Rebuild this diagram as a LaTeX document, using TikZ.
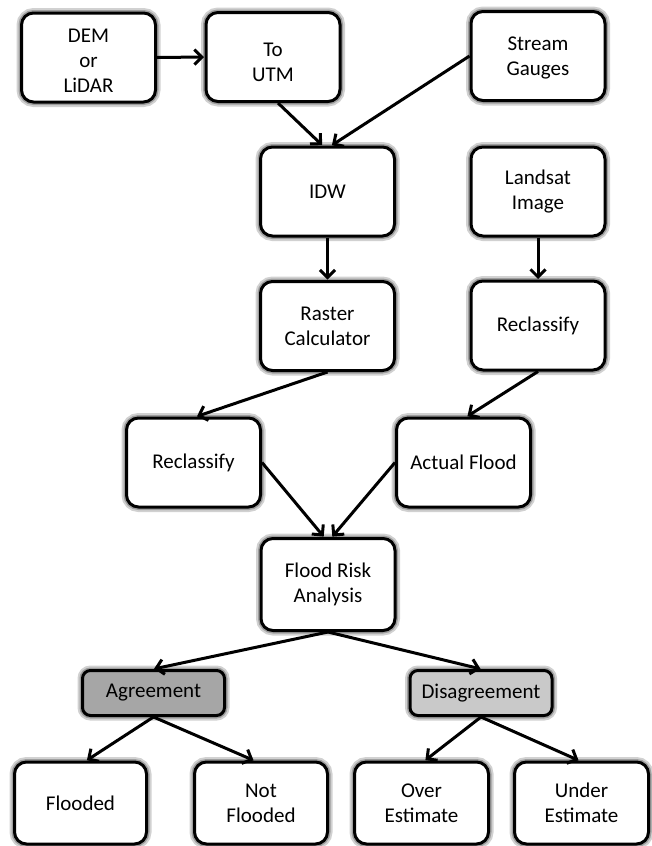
\documentclass[tikz,border=0pt]{standalone}
\usepackage{fontspec}
\setmainfont{Carlito}
\usetikzlibrary{arrows.meta}
\begin{document}
\begin{tikzpicture}[x=1pt,y=-1pt,
  box/.style={draw=black, line width=3pt, fill=white, rounded corners=12pt,
    minimum width=134pt, minimum height=89pt, inner sep=2pt, align=center,
    font=\fontsize{21}{25}\selectfont,
    preaction={draw=black!18, line width=10pt},
    preaction={draw=black!38, line width=6pt}},
  tag/.style={box, rounded corners=8pt, minimum width=142pt, minimum height=45pt},
  arr/.style={line width=3pt, -{Straight Barb[length=7.5pt,width=15pt,line width=3pt]}, shorten >=0.5pt}]
\useasboundingbox (0,0) rectangle (651,846);
\node[box] (dem) at (88.5,57.5) {\rule{0pt}{19.5pt}DEM\\or\\LiDAR};
\node[box] (utm) at (273,57) {\rule{0pt}{23.5pt}To\\UTM};
\node[box] (gauge) at (538,56) {\rule{0pt}{17pt}Stream\\Gauges};
\node[box] (idw) at (327.5,191.5) {IDW};
\node[box] (land) at (538,191.5) {Landsat\\Image};
\node[box] (rast) at (327.5,326) {Raster\\Calculator};
\node[box] (reclR) at (538,325.5) {Reclassify};
\node[box] (reclL) at (193.5,462.5) {Reclassify};
\node[box] (act) at (463.5,462.5) {Actual Flood};
\node[box, minimum height=92pt] (risk) at (328,584.5) {Flood Risk\\Analysis};
\node[tag, fill=black!35] (agr) at (153.5,693) {Agreement};
\node[tag, fill=black!21] (dis) at (481,693) {Disagreement};
\node[box, minimum width=132pt, minimum height=82pt] (fl) at (80.5,803) {Flooded};
\node[box, minimum width=133pt, minimum height=82pt] (nfl) at (261,803) {Not\\Flooded};
\node[box, minimum width=134pt, minimum height=82pt] (over) at (421.5,803) {Over\\Estimate};
\node[box, minimum width=134pt, minimum height=82pt] (under) at (581.5,803) {Under\\Estimate};
\draw[arr] (dem.east) -- (utm.west);
\draw[arr] ([xshift=5pt]utm.south) -- ([xshift=-5pt]idw.north);
\draw[arr] (gauge.west) -- ([xshift=4pt]idw.north);
\draw[arr] (idw.south) -- (rast.north);
\draw[arr] (land.south) -- (reclR.north);
\draw[arr] (rast.south) -- ([xshift=3pt]reclL.north);
\draw[arr] (reclR.south) -- ([xshift=3.5pt]act.north);
\draw[arr] (reclL.east) -- ([xshift=-4pt]risk.north);
\draw[arr] (act.west) -- ([xshift=4pt]risk.north);
\draw[arr] (risk.south) -- (agr.north);
\draw[arr] (risk.south) -- (dis.north);
\draw[arr] (agr.south) -- ([xshift=6pt]fl.north);
\draw[arr] (agr.south) -- ([xshift=-7pt]nfl.north);
\draw[arr] (dis.south) -- ([xshift=3.5pt]over.north);
\draw[arr] (dis.south) -- ([xshift=-2.5pt]under.north);
\end{tikzpicture}
\end{document}
